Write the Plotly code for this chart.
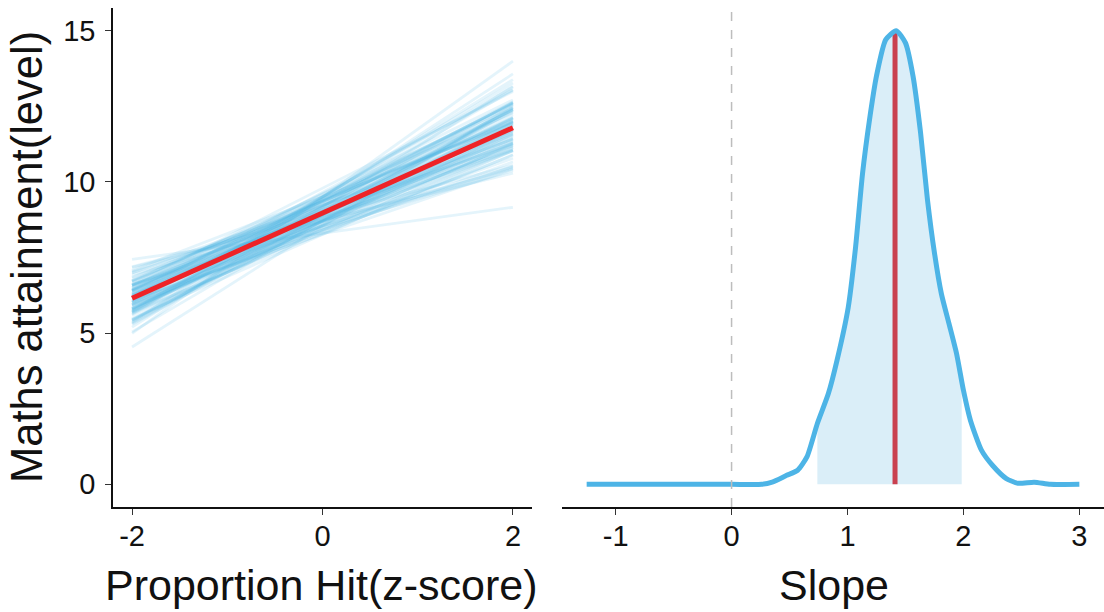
import numpy as np
import plotly.graph_objects as go

# ---- Posterior draws of the regression line (intercept, slope) ----
intercepts = [9.27, 8.65, 8.93, 8.73, 9.61, 8.48, 9.17, 9.22, 8.91, 8.30,
              9.33, 9.50, 8.69, 9.09, 8.55, 9.35, 8.74, 8.82, 9.43, 8.57,
              8.54, 9.16, 9.65, 9.03, 8.26, 8.87, 9.14, 8.71, 8.69, 9.59,
              9.04, 8.90, 8.36, 9.38, 8.96, 8.43, 9.50, 9.36, 8.30, 8.89,
              9.23, 9.04, 9.21, 8.40, 9.79, 8.68, 8.93, 9.52, 8.60, 8.73,
              8.39, 9.23, 9.00, 8.77, 9.40, 8.71, 9.08, 8.70, 9.47, 9.21,
              9.49, 8.54, 9.50, 8.83, 8.84, 9.51, 8.48, 9.06, 8.41, 9.51,
              8.71, 9.10, 9.19, 9.37, 8.57, 8.71, 9.38, 8.77, 8.87, 9.43,
              8.99, 8.92, 8.54, 9.39, 8.79, 9.18, 9.34, 8.27, 9.32, 8.94]
slopes = [1.41, 1.62, 1.18, 1.35, 1.55, 1.27, 1.73, 1.09, 1.48, 1.30,
          1.66, 1.21, 1.44, 1.52, 0.97, 1.38, 1.85, 1.25, 1.59, 1.33,
          1.12, 1.47, 1.70, 1.02, 1.39, 1.57, 1.28, 1.64, 0.88, 1.45,
          1.36, 1.78, 1.15, 1.50, 1.23, 1.42, 1.94, 1.31, 0.43, 1.53,
          1.19, 1.68, 1.40, 1.06, 1.60, 1.34, 1.26, 1.81, 1.46, 0.78,
          1.37, 1.58, 1.14, 1.49, 1.29, 1.71, 1.43, 1.22, 2.05, 1.32,
          2.25, 2.00, 1.54, 1.11, 1.76, 1.39, 0.95, 1.63, 1.24, 1.88,
          1.47, 1.05, 1.69, 1.33, 1.57, 1.16, 1.83, 1.41, 0.84, 1.51,
          1.28, 1.74, 1.36, 1.61, 1.20, 1.99, 1.44, 1.08, 1.65, 1.37]

# Posterior mean line
mean_intercept = 8.97
mean_slope = 1.41

# z-score span of the predictor
x_span = [-2, 2]

# ---- Density of the slope posterior ----
slope_grid = [-1.25, -1.0, -0.5, 0.0, 0.26, 0.35, 0.475, 0.57, 0.65, 0.74,
              0.835, 0.91, 1.006, 1.07, 1.13, 1.19, 1.25, 1.33, 1.42, 1.50,
              1.565, 1.63, 1.69, 1.75, 1.81, 1.875, 1.94, 2.0, 2.06, 2.155,
              2.25, 2.37, 2.47, 2.61, 2.75, 3.0]
slope_density = [0, 0, 0, 0, 0, 0.006, 0.025, 0.039, 0.076, 0.169,
                 0.252, 0.345, 0.491, 0.660, 0.864, 1.013, 1.134, 1.235, 1.26, 1.226,
                 1.134, 0.977, 0.790, 0.643, 0.529, 0.447, 0.364, 0.261, 0.178, 0.095,
                 0.053, 0.016, 0.003, 0.006, 0, 0]

# credible interval of the slope
ci_low, ci_high = 0.74, 1.985

# tick values and labels
x1_ticks = [-2, 0, 2]
x1_labels = ["-2", "0", "2"]
y1_ticks = [0, 5, 10, 15]
y1_labels = ["0", "5", "10", "15"]
x2_ticks = [-1, 0, 1, 2, 3]
x2_labels = ["-1", "0", "1", "2", "3"]

FONT = "Liberation Sans, Arial, Helvetica, sans-serif"
TEXT = "#111111"
BLUE = "#4db4e6"

fig = go.Figure()

# posterior regression lines
xs = np.array(x_span, dtype=float)
for a, b in zip(intercepts, slopes):
    fig.add_trace(go.Scatter(
        x=xs, y=a + b * xs, mode="lines",
        line=dict(color="rgba(77,180,230,0.15)", width=2.8),
        hoverinfo="skip", showlegend=False, xaxis="x", yaxis="y"))

# mean regression line
fig.add_trace(go.Scatter(
    x=xs, y=mean_intercept + mean_slope * xs, mode="lines",
    line=dict(color="#ee2327", width=5),
    showlegend=False, xaxis="x", yaxis="y"))

# shaded credible interval under the density
grid = np.array(slope_grid)
dens = np.array(slope_density)
inside = (grid > ci_low) & (grid < ci_high)
fill_x = np.concatenate([[ci_low], grid[inside], [ci_high]])
fill_y = np.concatenate([[np.interp(ci_low, grid, dens)], dens[inside],
                         [np.interp(ci_high, grid, dens)]])
fig.add_trace(go.Scatter(
    x=fill_x, y=fill_y, mode="lines", fill="tozeroy",
    fillcolor="#daeef8", line=dict(width=0, shape="spline", smoothing=0.6),
    hoverinfo="skip", showlegend=False, xaxis="x2", yaxis="y2"))

# mean slope marker
peak_at_mean = float(np.interp(mean_slope, grid, dens))
fig.add_trace(go.Scatter(
    x=[mean_slope, mean_slope], y=[0, peak_at_mean], mode="lines",
    line=dict(color="#c9404f", width=5),
    showlegend=False, xaxis="x2", yaxis="y2"))

# density curve
fig.add_trace(go.Scatter(
    x=slope_grid, y=slope_density, mode="lines",
    line=dict(color=BLUE, width=5, shape="spline", smoothing=0.6),
    showlegend=False, xaxis="x2", yaxis="y2"))

dens_max = max(slope_density)

# reference line at zero slope
fig.add_shape(type="line", xref="x2", yref="y2 domain",
              x0=0, x1=0, y0=0, y1=1,
              line=dict(color="#bdbdbd", width=1.5, dash="dash"),
              layer="above")

axis_common = dict(
    showline=True, linecolor="#111111", linewidth=1.6,
    ticks="outside", ticklen=6, tickwidth=1.4, tickcolor="#333333",
    showgrid=False, zeroline=False,
    tickfont=dict(family=FONT, size=29, color=TEXT),
)

fig.update_layout(
    width=1104, height=612, autosize=False,
    margin=dict(l=113, r=0, t=8, b=105),
    paper_bgcolor="white", plot_bgcolor="white",
    xaxis=dict(domain=[0, 0.4228], range=[-2.2, 2.2], tickvals=x1_ticks,
               ticktext=x1_labels, anchor="y", ticklabelstandoff=-4,
               **axis_common),
    yaxis=dict(domain=[0, 1], range=[-0.75, 15.75], tickvals=y1_ticks,
               ticktext=y1_labels, anchor="x", ticklabelstandoff=4,
               **axis_common),
    xaxis2=dict(domain=[0.4531, 1], range=[-1.4625, 3.2125], tickvals=x2_ticks,
                ticktext=x2_labels, anchor="y2", ticklabelstandoff=-4,
                **axis_common),
    yaxis2=dict(domain=[0, 1], range=[-0.05 * dens_max, 1.05 * dens_max],
                anchor="x2", visible=False),
    annotations=[
        dict(text="Maths attainment(level)", xref="paper", yref="paper",
             x=-0.0868, y=0.501, xanchor="center", yanchor="middle",
             textangle=-90, showarrow=False,
             font=dict(family=FONT, size=43.5, color=TEXT)),
        dict(text="Proportion Hit(z-score)", xref="paper", yref="paper",
             x=0.2099, y=-0.156, xanchor="center", yanchor="middle",
             showarrow=False, font=dict(family=FONT, size=43, color=TEXT)),
        dict(text="Slope", xref="paper", yref="paper",
             x=0.7275, y=-0.156, xanchor="center", yanchor="middle",
             showarrow=False, font=dict(family=FONT, size=43, color=TEXT)),
    ],
)

fig.write_html("out.html")
